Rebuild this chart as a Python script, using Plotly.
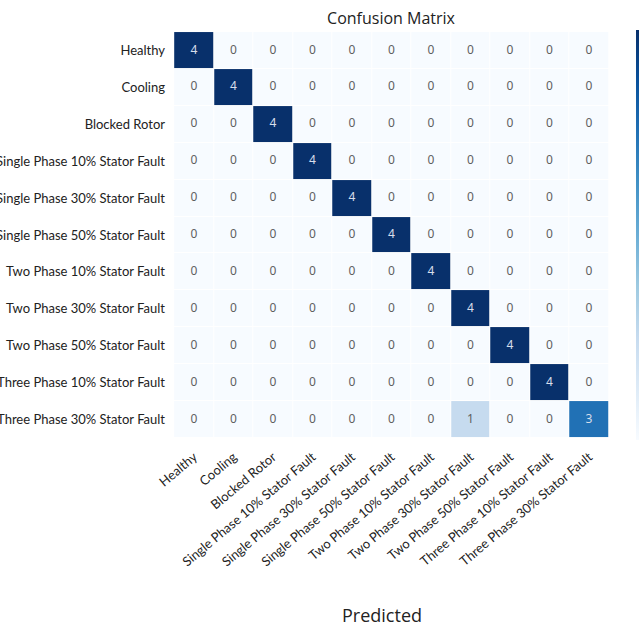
import plotly.graph_objects as go

classes = [
    "Healthy", "Cooling", "Blocked Rotor",
    "Single Phase 10% Stator Fault", "Single Phase 30% Stator Fault",
    "Single Phase 50% Stator Fault", "Two Phase 10% Stator Fault",
    "Two Phase 30% Stator Fault", "Two Phase 50% Stator Fault",
    "Three Phase 10% Stator Fault", "Three Phase 30% Stator Fault",
]

# rows = actual, columns = predicted
matrix = [
    [4, 0, 0, 0, 0, 0, 0, 0, 0, 0, 0],
    [0, 4, 0, 0, 0, 0, 0, 0, 0, 0, 0],
    [0, 0, 4, 0, 0, 0, 0, 0, 0, 0, 0],
    [0, 0, 0, 4, 0, 0, 0, 0, 0, 0, 0],
    [0, 0, 0, 0, 4, 0, 0, 0, 0, 0, 0],
    [0, 0, 0, 0, 0, 4, 0, 0, 0, 0, 0],
    [0, 0, 0, 0, 0, 0, 4, 0, 0, 0, 0],
    [0, 0, 0, 0, 0, 0, 0, 4, 0, 0, 0],
    [0, 0, 0, 0, 0, 0, 0, 0, 4, 0, 0],
    [0, 0, 0, 0, 0, 0, 0, 0, 0, 4, 0],
    [0, 0, 0, 0, 0, 0, 0, 1, 0, 0, 3],
]

blues = [
    "rgb(247,251,255)", "rgb(222,235,247)", "rgb(198,219,239)",
    "rgb(158,202,225)", "rgb(107,174,214)", "rgb(66,146,198)",
    "rgb(33,113,181)", "rgb(8,81,156)", "rgb(8,48,107)",
]
scale = [[i / (len(blues) - 1), c] for i, c in enumerate(blues)]

W, H = 639, 622
L, R, T, B = 172, 28, 30, 182

fig = go.Figure()
fig.add_trace(go.Heatmap(
    z=matrix, x=classes, y=classes,
    colorscale=scale, zmin=0, zmax=4,
    xgap=1, ygap=1,
    hoverinfo="skip",
    colorbar=dict(
        xref="container", x=636 / W, xanchor="left", xpad=0, ypad=0,
        yref="paper", y=1, yanchor="top", len=1, lenmode="fraction",
        thickness=20, outlinewidth=0, showticklabels=False, ticks="",
    ),
))

# cell annotations: light text on dark cells, grey text on pale cells
xs, ys, txt, cols = [], [], [], []
for r, row in enumerate(matrix):
    for c, v in enumerate(row):
        xs.append(classes[c])
        ys.append(classes[r])
        txt.append(str(v))
        cols.append("rgb(215,222,235)" if v >= 3 else "rgb(95,95,95)")
fig.add_trace(go.Scatter(
    x=xs, y=ys, mode="text", text=txt,
    textfont=dict(family="Noto Sans", size=12, color=cols),
    hoverinfo="skip", showlegend=False,
))

fig.update_layout(
    width=W, height=H,
    margin=dict(l=L, r=R, t=T, b=B),
    paper_bgcolor="white", plot_bgcolor="white",
    font=dict(family="Lato", size=13, color="#222"),
    title=dict(text="Confusion Matrix", x=391 / W, xanchor="center",
               y=1 - 18 / H, yanchor="middle",
               font=dict(family="Open Sans", size=16, color="#222")),
    showlegend=False,
    annotations=[dict(
        text="Predicted", xref="paper", yref="paper",
        x=(382 - L) / (W - L - R), y=-(615 - (H - B)) / (H - T - B),
        xanchor="center", yanchor="middle", showarrow=False,
        font=dict(family="Open Sans", size=18, color="#222"),
    )],
)
fig.update_xaxes(
    tickangle=-40, showgrid=False, zeroline=False, ticks="",
    ticklabelstandoff=6, automargin=False,
)
fig.update_yaxes(
    autorange="reversed", showgrid=False, zeroline=False, ticks="",
    ticklabelstandoff=6, automargin=False,
)

fig.write_html("out.html")
